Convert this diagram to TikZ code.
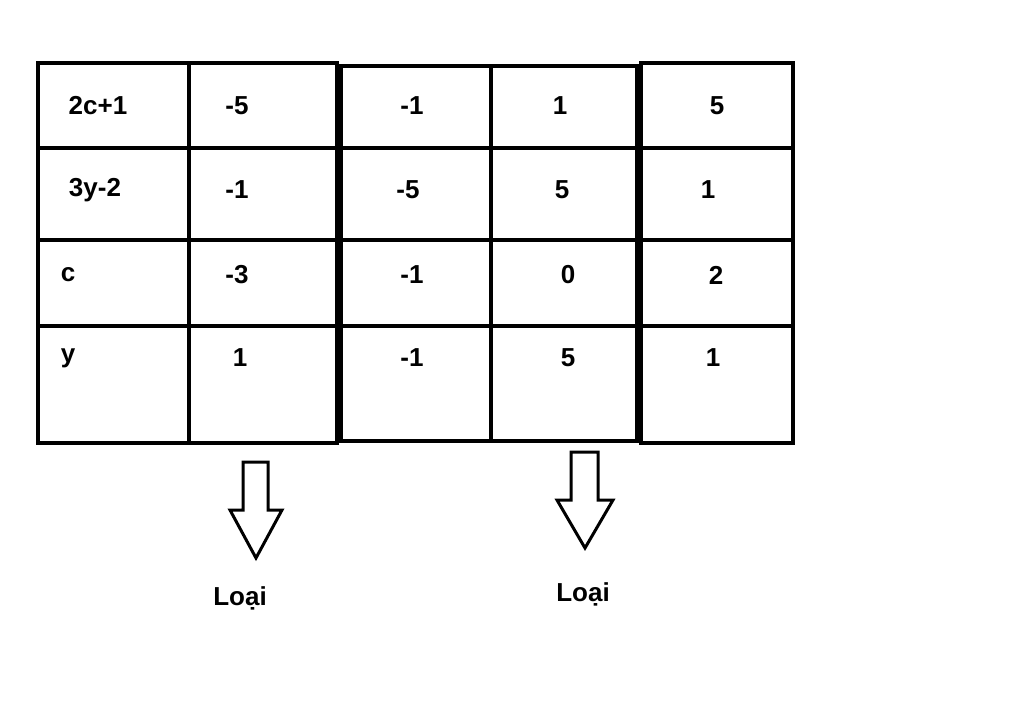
\documentclass[tikz,border=0pt]{standalone}
\usepackage{fontspec}
\setmainfont{Liberation Sans}
\begin{document}
\begin{tikzpicture}[x=1pt,y=-1pt,line width=3.5pt,
  t/.style={font=\fontsize{26}{30}\selectfont\bfseries,inner sep=0pt}]
\useasboundingbox (0,0) rectangle (1024,716);
% blocks
\draw (38,63) rectangle (337,443);
\draw (341,66) rectangle (637,441);
\draw (641,63) rectangle (793,443);
\draw (189,63) -- (189,443);
\draw (491,66) -- (491,441);
\foreach \y in {148,240,326}{\draw (38,\y) -- (793,\y);}
% texts
\foreach \n/\x/\y/\s in {a1/98/106/2c+1,a2/237/106/-5,a3/412/106/-1,a4/560/106/1,a5/717/106/5,
 b1/95/190/3y-2,b2/237/190/-1,b3/408/190/-5,b4/562/190/5,b5/708/190/1,
 c1/68/275/c,c2/237/275/-3,c3/412/275/-1,c4/568/275/0,c5/716/275/2,
 d1/68/358/y,d2/240/358/1/3,d3/412/358/-1,d4/568/358/5/3,d5/713/358/1}
 {\node[t] (\n) at (\x,\y) {\s};}
% arrows
\draw[line width=3pt] (243,462) -- (268,462) -- (268,510) -- (282,510) -- (256,558) -- (230,510) -- (243,510) -- cycle;
\draw[line width=3pt] (571,452) -- (598,452) -- (598,500) -- (613,500) -- (585,548) -- (557,500) -- (571,500) -- cycle;
\node[t] (l1) at (240,598) {Loại};
\node[t] (l2) at (583,594) {Loại};
\end{tikzpicture}
\end{document}
